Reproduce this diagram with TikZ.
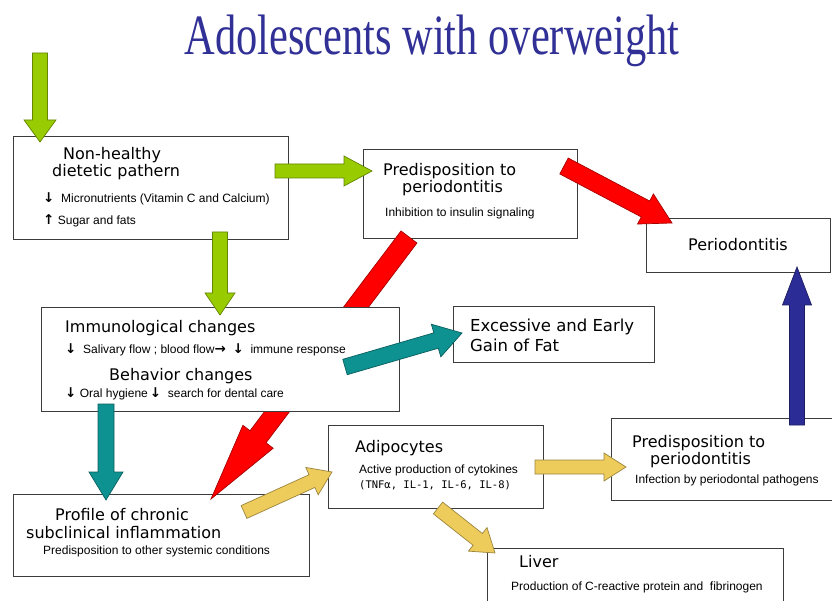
\documentclass[tikz,border=0pt]{standalone}
\usepackage{fontspec}
\setmainfont{Liberation Sans}
\newfontfamily\ttlfont{Liberation Serif}
\newfontfamily\hdfont{DejaVu Sans}
\newfontfamily\arfont{DejaVu Sans}
\newfontfamily\mofont{DejaVu Sans Mono}
\usetikzlibrary{calc}
\definecolor{agreen}{RGB}{153,204,0}
\definecolor{ared}{RGB}{255,0,0}
\definecolor{ateal}{RGB}{14,145,145}
\definecolor{ayellow}{RGB}{238,204,92}
\definecolor{ablue}{RGB}{44,44,150}
\definecolor{titleblue}{RGB}{48,48,150}
\definecolor{boxline}{RGB}{60,60,60}
\newcommand\dar{{\arfont\bfseries\fontsize{13.5}{14}\selectfont ↓}}
\newcommand\uar{{\arfont\bfseries\fontsize{13.5}{14}\selectfont ↑}}
\newcommand\rar{{\arfont\bfseries\fontsize{13.5}{14}\selectfont →}}
% block arrow: colour, tail, tip, half shaft, half head, head length
\newcommand\barrow[6]{%
 \coordinate (hb) at ($(#3)!#6!(#2)$);
 \filldraw[fill=#1, draw=#1!65!black, line width=0.7pt, line join=miter]
  ($(#2)!#4!90:(#3)$) -- ($(hb)!#4!90:(#3)$) -- ($(hb)!#5!90:(#3)$) -- (#3)
  -- ($(hb)!#5!-90:(#3)$) -- ($(hb)!#4!-90:(#3)$) -- ($(#2)!#4!-90:(#3)$) -- cycle;}
\begin{document}
\begin{tikzpicture}[x=1pt,y=-1pt,
 box/.style={draw=boxline, line width=0.9pt, fill=white, anchor=north west, inner sep=0},
 hd/.style={anchor=base west, inner sep=0, font=\hdfont\fontsize{16}{17}\selectfont},
 sub/.style={anchor=base west, inner sep=0, font=\fontsize{12}{14}\selectfont},
]
\useasboundingbox (0,0) rectangle (832,601);
\clip (0,0) rectangle (832,601);
\fill[white] (0,0) rectangle (832,601);

% title
\node[anchor=base, inner sep=0, text=titleblue, font=\ttlfont\fontsize{57}{60}\selectfont] (title) at (432,55) {\scalebox{0.745}[1]{Adolescents with overweight}};

% boxes (except immunological)
\node[box, minimum width=275pt, minimum height=103pt] (b1) at (13,136) {};
\node[box, minimum width=214pt, minimum height=89pt] (b2) at (363,149) {};
\node[box, minimum width=184pt, minimum height=54pt] (b3) at (646,218) {};
\node[box, minimum width=201pt, minimum height=56pt] (b5) at (453,306) {};
\node[box, minimum width=296pt, minimum height=82pt] (b6) at (13,494) {};
\node[box, minimum width=215pt, minimum height=83pt] (b7) at (328,425) {};
\node[box, minimum width=240pt, minimum height=82pt] (b8) at (611,418) {};
\node[box, minimum width=296pt, minimum height=70pt] (b9) at (487,548) {};

% red long arrow, behind the immunological box
\coordinate (r2a) at (409,237);
\coordinate (r2b) at (211,499);
\barrow{ared}{r2a}{r2b}{10pt}{19pt}{78pt}

\node[box, minimum width=358pt, minimum height=104pt] (b4) at (41,307) {};

% texts
\node[hd] (t1a) at (63,160) {Non-healthy};
\node[hd] (t1b) at (52,177) {dietetic pathern};
\node[sub] (t1c) at (43,203) {\dar\ \ Micronutrients (Vitamin C and Calcium)};
\node[sub] (t1d) at (43,225) {\uar\ Sugar and fats};

\node[hd] (t2a) at (383,176) {Predisposition to};
\node[hd] (t2b) at (402,193) {periodontitis};
\node[sub] (t2c) at (385,217) {Inhibition to insulin signaling};

\node[hd, anchor=base] (t3a) at (738,251) {Periodontitis};

\node[hd] (t4a) at (65,333) {Immunological changes};
\node[sub] (t4b) at (65,353) {\dar\ \ Salivary flow ; blood flow\rar\ \ \dar\ \ immune response};
\node[hd] (t4c) at (109,380) {Behavior changes};
\node[sub] (t4d) at (65,397) {\dar\ Oral hygiene\,\dar\ \ search for dental care};

\node[hd, font=\hdfont\fontsize{16.5}{17}\selectfont] (t5a) at (470,331) {Excessive and Early};
\node[hd, font=\hdfont\fontsize{16.5}{17}\selectfont] (t5b) at (470,351) {Gain of Fat};

\node[hd] (t6a) at (55,520) {Profile of chronic};
\node[hd] (t6b) at (26,538) {subclinical inflammation};
\node[sub] (t6c) at (43,554) {Predisposition to other systemic conditions};

\node[hd] (t7a) at (355,452) {Adipocytes};
\node[sub] (t7b) at (359,473) {Active production of cytokines};
\node[sub, font=\mofont\fontsize{10.5}{12}\selectfont] (t7c) at (359,488) {(TNFα, IL-1, IL-6, IL-8)};

\node[hd] (t8a) at (632,447) {Predisposition to};
\node[hd] (t8b) at (650,464) {periodontitis};
\node[sub] (t8c) at (635,483) {Infection by periodontal pathogens};

\node[hd] (t9a) at (519,567) {Liver};
\node[sub] (t9b) at (511,590) {Production of C-reactive protein and\ \ fibrinogen};

% arrows on top
\coordinate (g1a) at (40,53);   \coordinate (g1b) at (40,142);
\coordinate (g2a) at (275,171); \coordinate (g2b) at (372,171);
\coordinate (g3a) at (220,232); \coordinate (g3b) at (220,315);
\coordinate (r1a) at (564,166); \coordinate (r1b) at (672,223);
\coordinate (c1a) at (345,367); \coordinate (c1b) at (462,333);
\coordinate (c2a) at (106,404); \coordinate (c2b) at (106,500);
\coordinate (y1a) at (244,512); \coordinate (y1b) at (332,472);
\coordinate (y2a) at (535,467); \coordinate (y2b) at (626,467);
\coordinate (y3a) at (438,508); \coordinate (y3b) at (495,553);
\coordinate (u1a) at (797,425); \coordinate (u1b) at (797,267);

\barrow{agreen}{g1a}{g1b}{7.5pt}{16pt}{22pt}
\barrow{agreen}{g2a}{g2b}{7pt}{15pt}{28pt}
\barrow{agreen}{g3a}{g3b}{7.5pt}{15pt}{22pt}
\barrow{ared}{r1a}{r1b}{9pt}{17pt}{30pt}
\barrow{ateal}{c1a}{c1b}{8pt}{17pt}{27pt}
\barrow{ateal}{c2a}{c2b}{8pt}{17pt}{28pt}
\barrow{ayellow}{y1a}{y1b}{7pt}{15pt}{22pt}
\barrow{ayellow}{y2a}{y2b}{7pt}{14pt}{22pt}
\barrow{ayellow}{y3a}{y3b}{7.5pt}{15pt}{22pt}
\barrow{ablue}{u1a}{u1b}{7.5pt}{14.5pt}{38pt}
\end{tikzpicture}
\end{document}
